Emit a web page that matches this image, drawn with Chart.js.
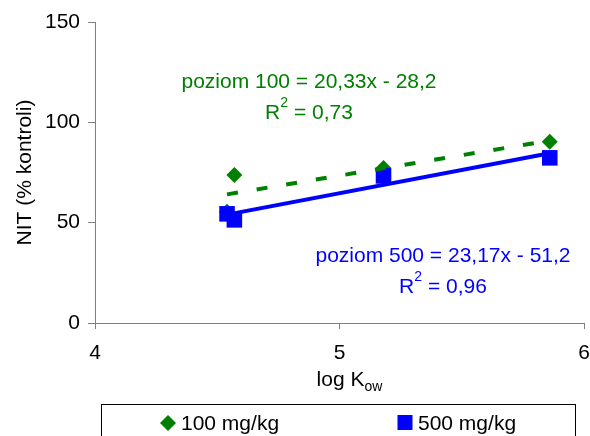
<!DOCTYPE html>
<html>
<head>
<meta charset="utf-8">
<script src="https://cdn.jsdelivr.net/npm/chart.js@4.4.1/dist/chart.umd.min.js"></script>
<style>
  html, body { margin: 0; padding: 0; background: #fff; }
</style>
</head>
<body>
<canvas id="chart" width="590" height="436"></canvas>
<script>
// ---- data ----
const logKow100 = [4.54, 4.57, 5.18, 5.86];
const nit100 = [55.4, 73.8, 77.3, 90.3];
const logKow500 = [4.54, 4.57, 5.18, 5.86];
const nit500 = [54.4, 51.4, 73.3, 82.3];
const seriesLabels = ['100 mg/kg', '500 mg/kg'];
// trend lines, as printed on the chart
const trendSlope = [20.33, 23.17];
const trendIntercept = [-28.2, -51.2];
const trendText = ['poziom 100 = 20,33x - 28,2', 'poziom 500 = 23,17x - 51,2'];
const r2Text = ['0,73', '0,96'];
const xTicks = [4, 5, 6];
const yTicks = [0, 50, 100, 150];

const GREEN = '#008000';
const BLUE = '#0000ff';
const AXIS = '#808080';
const FONT = '"Liberation Sans", Arial, sans-serif';

function points(xs, ys) {
  return xs.map((x, i) => ({ x: x, y: ys[i] }));
}

// trend line over the range of its own series
function trend(xs, i) {
  const lo = Math.min(...xs), hi = Math.max(...xs);
  return [lo, hi].map(x => ({ x: x, y: trendSlope[i] * x + trendIntercept[i] }));
}

// text labels, x title with subscript, and the boxed legend
const extras = {
  id: 'extras',
  afterDraw(chart) {
    const ctx = chart.ctx;
    const area = chart.chartArea;
    ctx.save();
    ctx.textBaseline = 'alphabetic';

    // equation + R^2 labels
    const labelPos = [
      { cx: 309, y1: 88, y2: 119, color: GREEN },
      { cx: 443, y1: 262, y2: 293, color: BLUE }
    ];
    labelPos.forEach((p, i) => {
      ctx.fillStyle = p.color;
      ctx.font = '21px ' + FONT;
      ctx.textAlign = 'center';
      ctx.fillText(trendText[i], p.cx, p.y1);

      ctx.textAlign = 'left';
      const big = '21px ' + FONT, small = '14px ' + FONT;
      ctx.font = big;
      const wR = ctx.measureText('R').width;
      const rest = ' = ' + r2Text[i];
      const wRest = ctx.measureText(rest).width;
      ctx.font = small;
      const w2 = ctx.measureText('2').width;
      let x = p.cx - (wR + w2 + wRest) / 2;
      ctx.font = big;
      ctx.fillText('R', x, p.y2);
      x += wR;
      ctx.font = small;
      ctx.fillText('2', x, p.y2 - 12);
      x += w2;
      ctx.font = big;
      ctx.fillText(rest, x, p.y2);
    });

    // x axis title: log K_ow
    ctx.fillStyle = '#000';
    ctx.font = '21px ' + FONT;
    const wMain = ctx.measureText('log K').width;
    ctx.font = '14px ' + FONT;
    const wSub = ctx.measureText('ow').width;
    let tx = (area.left + area.right) / 2 + 10 - (wMain + wSub) / 2;
    ctx.font = '21px ' + FONT;
    ctx.fillText('log K', tx, 386);
    ctx.font = '14px ' + FONT;
    ctx.fillText('ow', tx + wMain, 391);

    // legend box
    ctx.strokeStyle = '#000';
    ctx.lineWidth = 1;
    ctx.strokeRect(101.5, 404.5, 474, 60);
    const legendPos = [{ mx: 168, tx: 181 }, { mx: 405, tx: 418 }];
    legendPos.forEach((p, i) => {
      const ds = chart.data.datasets[i];
      ctx.fillStyle = ds.backgroundColor;
      ctx.beginPath();
      if (ds.pointStyle === 'rectRot') {
        ctx.moveTo(p.mx, 415); ctx.lineTo(p.mx + 8, 423);
        ctx.lineTo(p.mx, 431); ctx.lineTo(p.mx - 8, 423);
        ctx.closePath();
      } else {
        ctx.rect(p.mx - 7.5, 415, 15, 15);
      }
      ctx.fill();
      ctx.fillStyle = '#000';
      ctx.font = '21px ' + FONT;
      ctx.textAlign = 'left';
      ctx.fillText(ds.label, p.tx, 430);
    });
    ctx.restore();
  }
};

new Chart(document.getElementById('chart'), {
  type: 'scatter',
  data: {
    datasets: [
      {
        label: seriesLabels[0],
        data: points(logKow100, nit100),
        pointStyle: 'rectRot',
        radius: 8,
        backgroundColor: GREEN,
        borderColor: GREEN,
        borderWidth: 0,
        order: 3
      },
      {
        label: seriesLabels[1],
        data: points(logKow500, nit500),
        pointStyle: 'rect',
        radius: 11,
        backgroundColor: BLUE,
        borderColor: BLUE,
        borderWidth: 0,
        order: 2
      },
      {
        type: 'line',
        label: 'trend 100',
        data: trend(logKow100, 0),
        borderColor: GREEN,
        borderWidth: 4,
        borderDash: [11, 19],
        pointRadius: 0,
        fill: false,
        order: 1
      },
      {
        type: 'line',
        label: 'trend 500',
        data: trend(logKow500, 1),
        borderColor: BLUE,
        borderWidth: 4,
        pointRadius: 0,
        fill: false,
        order: 0
      }
    ]
  },
  options: {
    responsive: false,
    animation: false,
    devicePixelRatio: 1,
    layout: { autoPadding: false, padding: { left: 0, right: 6, top: 22, bottom: 33 } },
    plugins: { legend: { display: false }, tooltip: { enabled: false } },
    scales: {
      x: {
        type: 'linear',
        min: 4, max: 6,
        afterBuildTicks: s => { s.ticks = xTicks.map(v => ({ value: v })); },
        afterFit: s => { s.height = 80; s.paddingLeft = 0; s.paddingRight = 0; },
        grid: { drawOnChartArea: false, tickLength: 6, color: AXIS },
        border: { color: AXIS },
        ticks: { color: '#000', font: { family: FONT, size: 21 }, padding: 12, maxRotation: 0 }
      },
      y: {
        min: 0, max: 150,
        afterBuildTicks: s => { s.ticks = yTicks.map(v => ({ value: v })); },
        afterFit: s => { s.width = 95; },
        grid: { drawOnChartArea: false, tickLength: 7, color: AXIS },
        border: { color: AXIS },
        ticks: { color: '#000', font: { family: FONT, size: 21 }, padding: 8 },
        title: {
          display: true,
          text: 'NIT (% kontroli)',
          color: '#000',
          font: { family: FONT, size: 21 },
          padding: { top: 13, bottom: 0 }
        }
      }
    }
  },
  plugins: [extras]
});
</script>
</body>
</html>
